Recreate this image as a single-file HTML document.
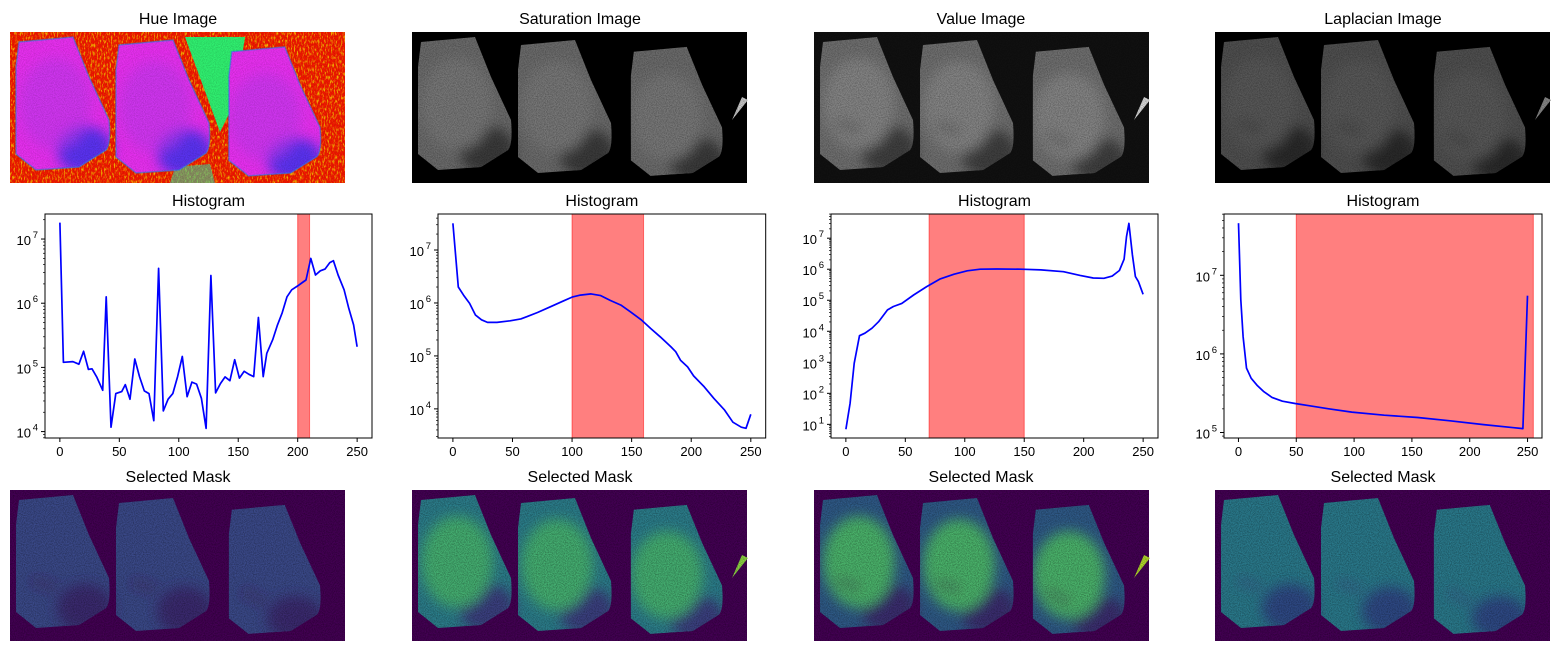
<!DOCTYPE html>
<html><head><meta charset="utf-8">
<style>
html,body{margin:0;padding:0;background:#fff;}
svg{display:block;font-family:"Liberation Sans","DejaVu Sans",sans-serif;}
</style></head>
<body>
<svg id="fig" width="1560" height="651" viewBox="0 0 1560 651" xmlns="http://www.w3.org/2000/svg">
<defs>
  <filter id="noise" x="0" y="0" width="100%" height="100%">
    <feTurbulence type="fractalNoise" baseFrequency="0.9" numOctaves="2" seed="3" result="t"/>
    <feColorMatrix in="t" type="matrix" values="0 0 0 0 0  0 0 0 0 0  0 0 0 0 0  0 0 0 -1.6 1.1"/>
    <feComposite in2="SourceGraphic" operator="in"/>
  </filter>
  <filter id="noiseY" x="0" y="0" width="100%" height="100%">
    <feTurbulence type="fractalNoise" baseFrequency="0.7 0.25" numOctaves="2" seed="7" result="t"/>
    <feColorMatrix in="t" type="matrix" values="0 0 0 0 1  0 0 0 0 0.9  0 0 0 0 0  0 0 0 -4 2.0"/>
    <feComposite in2="SourceGraphic" operator="in"/>
  </filter>
  <filter id="blur"><feGaussianBlur stdDeviation="6"/></filter>
  <clipPath id="bclip">
    <path d="M9,10 L63,5 L79,45 L99,88 Q101,112 96,118 L69,135 L26,138 L6,122 L6,35 Z"/>
    <path d="M9,10 L63,5 L79,45 L99,88 Q101,112 96,118 L69,135 L26,138 L6,122 L6,35 Z" transform="translate(100,3)"/>
    <path d="M9,10 L63,5 L79,45 L99,88 Q101,112 96,118 L69,135 L26,138 L6,122 L6,35 Z" transform="translate(213,10) scale(0.98,0.97)"/>
  </clipPath>
  <g id="blobs">
    <path d="M9,10 L63,5 L79,45 L99,88 Q101,112 96,118 L69,135 L26,138 L6,122 L6,35 Z"/>
    <path d="M9,10 L63,5 L79,45 L99,88 Q101,112 96,118 L69,135 L26,138 L6,122 L6,35 Z" transform="translate(100,3)"/>
    <path d="M9,10 L63,5 L79,45 L99,88 Q101,112 96,118 L69,135 L26,138 L6,122 L6,35 Z" transform="translate(213,10) scale(0.98,0.97)"/>
  </g>
  <g id="cores">
    <ellipse cx="45" cy="72" rx="36" ry="46"/>
    <ellipse cx="145" cy="75" rx="36" ry="46"/>
    <ellipse cx="255" cy="85" rx="36" ry="44"/>
  </g>
  <g id="rims">
    <ellipse cx="75" cy="118" rx="28" ry="24"/>
    <ellipse cx="175" cy="121" rx="28" ry="24"/>
    <ellipse cx="285" cy="128" rx="28" ry="22"/>
  </g>
  <g id="holes">
    <circle cx="28" cy="92" r="4"/><circle cx="40" cy="96" r="4"/>
    <circle cx="128" cy="94" r="4"/><circle cx="140" cy="98" r="4"/>
    <circle cx="238" cy="104" r="4"/><circle cx="250" cy="110" r="4"/>
  </g>
  <path id="tail" d="M330,65 L336,68 L320,88 Z"/>
</defs>

<text x="178" y="24" font-size="16" text-anchor="middle">Hue Image</text>
<text x="580" y="24" font-size="16" text-anchor="middle">Saturation Image</text>
<text x="981" y="24" font-size="16" text-anchor="middle">Value Image</text>
<text x="1383" y="24" font-size="16" text-anchor="middle">Laplacian Image</text>

<g transform="translate(10,32)">
  <rect width="335" height="151" fill="#f51800"/>
  <rect width="335" height="151" fill="#fff" filter="url(#noiseY)" opacity="0.7"/>
  <path d="M175,5 L235,5 L225,70 L210,100 Z" fill="#30f070"/>
  <path d="M165,135 L200,132 L205,151 L160,151 Z" fill="#40e0a0" opacity="0.6"/>
  <use href="#blobs" fill="#e830f0"/>
  <g clip-path="url(#bclip)"><g filter="url(#blur)"><use href="#rims" fill="#5a30f0"/><use href="#cores" fill="#c038f0" opacity="0.6"/></g></g>
  <use href="#blobs" fill="none" stroke="#3080f0" stroke-width="1.5" opacity="0.6"/>
  <rect width="335" height="151" fill="#fff" filter="url(#noise)" opacity="0.2"/>
</g>
<g transform="translate(412,32)">
  <rect width="335" height="151" fill="#000"/>
  <use href="#blobs" fill="#6c6c6c"/>
  <g clip-path="url(#bclip)"><g filter="url(#blur)"><use href="#rims" fill="#3a3a3a"/><use href="#cores" fill="#787878"/></g></g>
  <use href="#tail" fill="#ccc"/>
  <rect width="335" height="151" fill="#000" filter="url(#noise)" opacity="0.35"/>
</g>
<g transform="translate(814,32)">
  <rect width="335" height="151" fill="#111"/>
  <use href="#blobs" fill="#707070"/>
  <g clip-path="url(#bclip)"><g filter="url(#blur)"><use href="#rims" fill="#404040"/><use href="#cores" fill="#858585"/><use href="#holes" fill="#444"/></g></g>
  <use href="#tail" fill="#ddd"/>
  <rect width="335" height="151" fill="#000" filter="url(#noise)" opacity="0.35"/>
</g>
<g transform="translate(1215,32)">
  <rect width="335" height="151" fill="#000"/>
  <use href="#blobs" fill="#505050"/>
  <g clip-path="url(#bclip)"><g filter="url(#blur)"><use href="#rims" fill="#2c2c2c"/><use href="#cores" fill="#585858"/><use href="#holes" fill="#333"/></g></g>
  <use href="#tail" fill="#888"/>
  <rect width="335" height="151" fill="#000" filter="url(#noise)" opacity="0.35"/>
</g>

<g id="hists"></g>

<text x="178" y="482" font-size="16" text-anchor="middle">Selected Mask</text>
<text x="580" y="482" font-size="16" text-anchor="middle">Selected Mask</text>
<text x="981" y="482" font-size="16" text-anchor="middle">Selected Mask</text>
<text x="1383" y="482" font-size="16" text-anchor="middle">Selected Mask</text>

<g transform="translate(10,490)">
  <rect width="335" height="151" fill="#440154"/>
  <use href="#blobs" fill="#3b4a8a"/>
  <g clip-path="url(#bclip)"><g filter="url(#blur)"><use href="#rims" fill="#3a2a70"/><use href="#holes" fill="#45205e"/></g></g>
  <rect width="335" height="151" fill="#440154" filter="url(#noise)" opacity="0.4"/>
</g>
<g transform="translate(412,490)">
  <rect width="335" height="151" fill="#440154"/>
  <use href="#blobs" fill="#2c7e8c"/>
  <g clip-path="url(#bclip)"><g filter="url(#blur)"><use href="#rims" fill="#3a3f80"/><use href="#cores" fill="#45b072"/></g></g>
  <use href="#tail" fill="#8fd744"/>
  <rect width="335" height="151" fill="#440154" filter="url(#noise)" opacity="0.4"/>
</g>
<g transform="translate(814,490)">
  <rect width="335" height="151" fill="#440154"/>
  <use href="#blobs" fill="#2f5a88"/>
  <g clip-path="url(#bclip)"><g filter="url(#blur)"><use href="#rims" fill="#3a2f70"/><use href="#cores" fill="#4cb56c"/><use href="#holes" fill="#440154"/></g></g>
  <use href="#tail" fill="#b5de2b"/>
  <rect width="335" height="151" fill="#440154" filter="url(#noise)" opacity="0.4"/>
</g>
<g transform="translate(1215,490)">
  <rect width="335" height="151" fill="#440154"/>
  <use href="#blobs" fill="#2a7a8c"/>
  <g clip-path="url(#bclip)"><g filter="url(#blur)"><use href="#rims" fill="#2f4a85"/><use href="#holes" fill="#3b4f8a"/></g></g>
  <rect width="335" height="151" fill="#440154" filter="url(#noise)" opacity="0.4"/>
</g>
</svg>
<script>
const xTicks = [0, 50, 100, 150, 200, 250];
const hueX = [0,3,11,16,20,24,27,31,36,39,43,47,52,55,59,63,67,71,75,79,83,87,91,95,99,103,107,111,115,119,123,127,131,135,139,143,147,151,155,159,163,167,171,174,179,183,187,191,195,200,204,207,211,215,219,223,227,230,234,239,243,247,250];
const hueY = [1.8e7,1.2e5,1.23e5,1.12e5,1.78e5,9.3e4,9.5e4,7.1e4,4.4e4,1.26e6,1.17e4,3.9e4,4.2e4,5.4e4,3.2e4,1.35e5,7.2e4,4.3e4,3.9e4,1.48e4,3.5e6,2.1e4,3.2e4,3.9e4,7.2e4,1.48e5,3.5e4,5.9e4,5.5e4,3.3e4,1.12e4,2.7e6,4.0e4,5.6e4,7.1e4,6.2e4,1.32e5,6.8e4,8.7e4,7.8e4,7.2e4,6.0e5,7.2e4,1.66e5,2.7e5,4.6e5,7.1e5,1.26e6,1.62e6,1.86e6,2.1e6,2.3e6,5.0e6,2.75e6,3.2e6,3.4e6,4.3e6,4.6e6,2.75e6,1.62e6,8.3e5,4.6e5,2.1e5];
const satX = [0,4.5,9,14,19,24,29,37,48,57,62,71,82,93,100,107,116,124,132,141,149,158,166,174,183,187,191,197,202,211,219,228,235,242,246,250];
const satY = [3.2e7,2.0e6,1.4e6,9.8e5,5.9e5,4.8e5,4.3e5,4.3e5,4.6e5,5.0e5,5.5e5,6.6e5,8.5e5,1.1e6,1.29e6,1.41e6,1.48e6,1.38e6,1.12e6,9.1e5,6.8e5,4.8e5,3.3e5,2.3e5,1.48e5,1.2e5,8.3e4,6.2e4,4.2e4,2.6e4,1.58e4,9.5e3,5.6e3,4.5e3,4.3e3,7.9e3];
const valX = [0,3.6,7,11.5,16,22,27.5,35,40,47,57,68,79,91,102,113,127,147,164,183,197,208,217,224,230,234,236,238,241,243.5,246,250];
const valY = [6.9,48,930,7.2e3,8.7e3,1.26e4,2.04e4,4.9e4,6.3e4,7.9e4,1.48e5,2.75e5,4.8e5,6.9e5,8.9e5,1.0e6,1.02e6,1.0e6,9.5e5,8.3e5,6.3e5,5.2e5,5.1e5,6.0e5,9.1e5,2.1e6,1.12e7,3.0e7,2.9e6,5.8e5,4.0e5,1.55e5];
const lapX = [0,2,4,7,11,16,22,29,38,49,61,78,98,126,155,183,212,238,246,250];
const lapY = [4.6e7,4.9e6,1.66e6,6.6e5,4.9e5,4.0e5,3.3e5,2.8e5,2.5e5,2.34e5,2.19e5,2.0e5,1.82e5,1.66e5,1.55e5,1.41e5,1.26e5,1.15e5,1.12e5,5.5e6];
const spanLo = [200, 100, 70, 50];
const spanHi = [210, 160, 150, 255];

const NS = 'http://www.w3.org/2000/svg';
const hists = document.getElementById('hists');
function mk(tag, attrs, parent) {
  const e = document.createElementNS(NS, tag);
  for (const k in attrs) e.setAttribute(k, attrs[k]);
  parent.appendChild(e);
  return e;
}
const panels = [
  {name:'hue', xs:hueX, ys:hueY, L:45, R:372, lmin:3.90, lmax:7.39, dec:[4,5,6,7]},
  {name:'saturation', xs:satX, ys:satY, L:438, R:765.7, lmin:3.45, lmax:7.68, dec:[4,5,6,7]},
  {name:'value', xs:valX, ys:valY, L:831, R:1158, lmin:0.56, lmax:7.78, dec:[1,2,3,4,5,6,7]},
  {name:'laplacian', xs:lapX, ys:lapY, L:1224, R:1542, lmin:4.93, lmax:7.78, dec:[5,6,7]}
];
const T = 214, B = 438;
panels.forEach((p, i) => {
  const g = mk('g', {}, hists);
  
  
  const sx = v => p.L + (v + 12.5) / 275 * (p.R - p.L);
  const sy = v => B - (Math.log10(v) - p.lmin) / (p.lmax - p.lmin) * (B - T);
  const t = mk('text', {x:(p.L+p.R)/2, y:206, 'font-size':16, 'text-anchor':'middle'}, g);
  t.textContent = 'Histogram';
  
  
  const span = mk('rect', {x:sx(spanLo[i]), y:T, width:sx(spanHi[i])-sx(spanLo[i]), height:B-T, fill:'#ff0000', 'fill-opacity':0.5, stroke:'#ff0000', 'stroke-opacity':0.5, 'stroke-width':1}, g);
  
  
  const d = p.xs.map((x, j) => (j ? 'L' : 'M') + sx(x).toFixed(1) + ',' + sy(p.ys[j]).toFixed(1)).join(' ');
  const line = mk('path', {d:d, fill:'none', stroke:'#0000ff', 'stroke-width':1.7, 'stroke-linejoin':'round'}, g);
  
  
  const frame = mk('rect', {x:p.L, y:T, width:p.R-p.L, height:B-T, fill:'none', stroke:'#000', 'stroke-width':1}, g);
  
  
  xTicks.forEach(v => {
    mk('line', {x1:sx(v), x2:sx(v), y1:B, y2:B+4, stroke:'#000'}, g);
    const tl = mk('text', {x:sx(v), y:B+18, 'font-size':13, 'text-anchor':'middle'}, g);
    tl.textContent = v;
    
    
  });
  for (let e = Math.floor(p.lmin); e <= Math.ceil(p.lmax); e++) {
    for (let m = 2; m <= 9; m++) {
      const lv = e + Math.log10(m);
      if (lv > p.lmin && lv < p.lmax) {
        const yy = B - (lv - p.lmin) / (p.lmax - p.lmin) * (B - T);
        mk('line', {x1:p.L-2, x2:p.L, y1:yy, y2:yy, stroke:'#000', 'stroke-width':0.7}, g);
      }
    }
  }
  p.dec.forEach(e => {
    const yy = sy(Math.pow(10, e));
    mk('line', {x1:p.L-4, x2:p.L, y1:yy, y2:yy, stroke:'#000'}, g);
    const tl = mk('text', {x:p.L-14, y:yy+6, 'font-size':13, 'text-anchor':'end'}, g);
    tl.textContent = '10';
    
    
    const sup = mk('text', {x:p.L-7, y:yy-1, 'font-size':9.5, 'text-anchor':'end'}, g);
    sup.textContent = e;
    
    
  });
});
</script>
</body></html>
